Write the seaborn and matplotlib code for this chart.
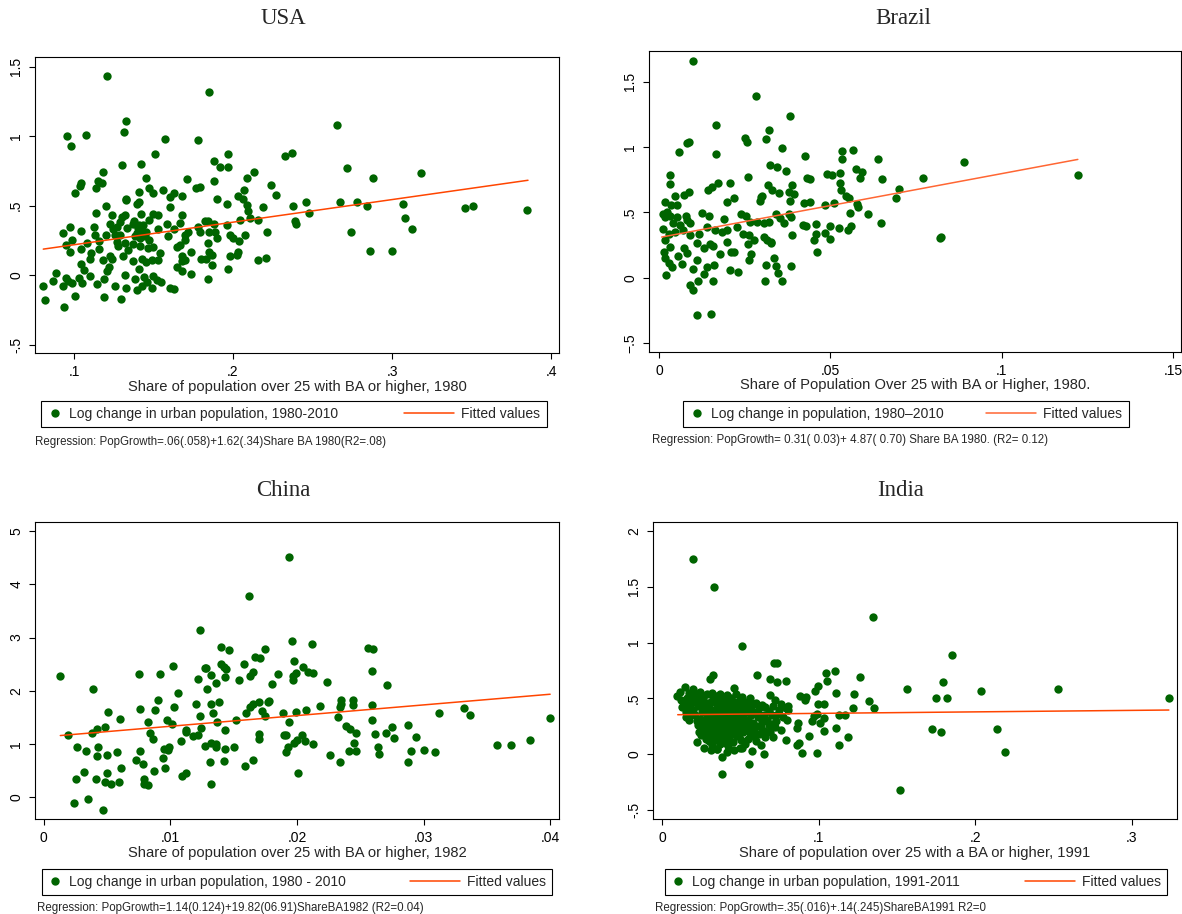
import numpy as np
import matplotlib
matplotlib.use("Agg")
import matplotlib.pyplot as plt
import seaborn as sns
from matplotlib.lines import Line2D
from matplotlib.legend_handler import HandlerLine2D

# share of population with BA (x) vs log change in population (y)
usa_points = [
    (0.121, 1.43), (0.185, 1.32), (0.133, 1.11), (0.1315, 1.03), (0.0956, 1.00), (0.1076, 1.01),
    (0.0983, 0.93), (0.157, 0.98), (0.178, 0.97), (0.151, 0.87), (0.233, 0.86), (0.237, 0.88),
    (0.197, 0.87), (0.188, 0.82), (0.192, 0.78), (0.197, 0.78), (0.130, 0.79), (0.142, 0.80),
    (0.118, 0.74), (0.213, 0.74), (0.209, 0.70), (0.145, 0.70), (0.171, 0.69), (0.188, 0.68),
    (0.115, 0.68), (0.1177, 0.66), (0.1046, 0.66), (0.104, 0.64), (0.1139, 0.63), (0.147, 0.63),
    (0.224, 0.65), (0.207, 0.61), (0.1008, 0.59), (0.141, 0.60), (0.1496, 0.59), (0.156, 0.61),
    (0.163, 0.59), (0.168, 0.57), (0.1605, 0.56), (0.177, 0.625), (0.179, 0.635), (0.227, 0.58),
    (0.203, 0.57), (0.206, 0.55), (0.1897, 0.55), (0.133, 0.55), (0.1328, 0.54), (0.141, 0.53),
    (0.1395, 0.51), (0.120, 0.495), (0.1605, 0.49), (0.196, 0.51), (0.209, 0.505), (0.219, 0.49),
    (0.238, 0.50), (0.1137, 0.45), (0.124, 0.43), (0.1303, 0.42), (0.1324, 0.43), (0.142, 0.44),
    (0.150, 0.44), (0.153, 0.43), (0.168, 0.43), (0.2097, 0.46), (0.2105, 0.41), (0.2046, 0.40),
    (0.2157, 0.40), (0.1824, 0.39), (0.184, 0.39), (0.239, 0.39), (0.2395, 0.365), (0.0973, 0.35),
    (0.1128, 0.35), (0.1227, 0.365), (0.129, 0.38), (0.138, 0.39), (0.141, 0.36), (0.1437, 0.36),
    (0.147, 0.40), (0.1586, 0.37), (0.1668, 0.375), (0.1777, 0.35), (0.188, 0.37), (0.196, 0.36),
    (0.153, 0.33), (0.1626, 0.33), (0.093, 0.30), (0.1044, 0.32), (0.113, 0.29), (0.1204, 0.29),
    (0.1258, 0.29), (0.129, 0.29), (0.1395, 0.30), (0.145, 0.31), (0.172, 0.31), (0.179, 0.31),
    (0.185, 0.31), (0.1889, 0.31), (0.198, 0.29), (0.2212, 0.31), (0.2078, 0.29), (0.170, 0.29),
    (0.190, 0.27), (0.0987, 0.25), (0.108, 0.235), (0.116, 0.245), (0.127, 0.24), (0.1324, 0.235),
    (0.137, 0.226), (0.147, 0.255), (0.1647, 0.20), (0.1664, 0.22), (0.184, 0.235), (0.204, 0.245),
    (0.200, 0.27), (0.0947, 0.216), (0.0975, 0.166), (0.1042, 0.185), (0.1158, 0.19), (0.128, 0.21),
    (0.134, 0.18), (0.1416, 0.21), (0.1496, 0.20), (0.154, 0.16), (0.1737, 0.17), (0.185, 0.17),
    (0.187, 0.145), (0.198, 0.14), (0.2029, 0.166), (0.2025, 0.145), (0.216, 0.106), (0.2206, 0.125),
    (0.1105, 0.16), (0.110, 0.12), (0.118, 0.11), (0.1227, 0.135), (0.124, 0.118), (0.131, 0.14),
    (0.1374, 0.10), (0.1429, 0.115), (0.145, 0.096), (0.149, 0.11), (0.153, 0.11), (0.168, 0.135),
    (0.1679, 0.10), (0.170, 0.11), (0.180, 0.113), (0.183, 0.113), (0.1044, 0.077), (0.1063, 0.038),
    (0.121, 0.03), (0.1222, 0.06), (0.141, 0.048), (0.1647, 0.06), (0.168, 0.03), (0.187, 0.075),
    (0.197, 0.048), (0.089, 0.014), (0.087, -0.04), (0.0807, -0.075), (0.082, -0.18), (0.0935, -0.23),
    (0.095, -0.017), (0.0933, -0.077), (0.0962, -0.043), (0.0985, -0.058), (0.1008, -0.147),
    (0.1032, -0.02), (0.105, -0.053), (0.110, -0.007), (0.1143, -0.065), (0.1191, -0.024),
    (0.1191, -0.16), (0.126, -0.075), (0.1294, -0.173), (0.1321, 0.002), (0.133, -0.094),
    (0.1384, -0.03), (0.1399, -0.11), (0.1426, -0.08), (0.1441, -0.01), (0.1458, -0.048),
    (0.149, -0.094), (0.150, -0.005), (0.152, -0.034), (0.1545, -0.05), (0.1605, -0.094),
    (0.1626, -0.10), (0.1735, 0.007), (0.184, -0.024), (0.1374, 0.37), (0.140, 0.34), (0.1426, 0.32),
    (0.1447, 0.28), (0.1416, 0.27), (0.1384, 0.28), (0.1468, 0.195), (0.1332, 0.34), (0.1273, 0.35),
    (0.1248, 0.33), (0.170, 0.255), (0.1594, 0.28), (0.2654, 1.08), (0.2717, 0.77), (0.2878, 0.70),
    (0.3182, 0.735), (0.2459, 0.53), (0.248, 0.45), (0.2673, 0.53), (0.278, 0.53), (0.2845, 0.50),
    (0.2744, 0.31), (0.2864, 0.175), (0.300, 0.175), (0.3071, 0.51), (0.3084, 0.41), (0.3128, 0.33),
    (0.3461, 0.48), (0.3507, 0.495), (0.3851, 0.47),
]

brazil_points = [
    (0.010, 1.66), (0.0284, 1.39), (0.0382, 1.24), (0.0165, 1.17), (0.032, 1.13), (0.025, 1.07),
    (0.0256, 1.04), (0.0312, 1.06), (0.0087, 1.04), (0.0083, 1.03), (0.0358, 0.995), (0.0058, 0.96),
    (0.0165, 0.946), (0.0425, 0.936), (0.0533, 0.97), (0.0567, 0.98), (0.0535, 0.91), (0.0639, 0.91),
    (0.0325, 0.86), (0.0345, 0.85), (0.0372, 0.82), (0.0576, 0.83), (0.0593, 0.81), (0.0489, 0.796),
    (0.0505, 0.79), (0.0527, 0.80), (0.0032, 0.786), (0.0261, 0.77), (0.0433, 0.765), (0.044, 0.758),
    (0.0587, 0.76), (0.065, 0.758), (0.0033, 0.714), (0.0171, 0.725), (0.0206, 0.727), (0.0155, 0.694),
    (0.0142, 0.668), (0.0317, 0.71), (0.0329, 0.673), (0.0388, 0.71), (0.0529, 0.727), (0.0087, 0.658),
    (0.0073, 0.633), (0.0048, 0.622), (0.0349, 0.65), (0.0379, 0.658), (0.0394, 0.64), (0.0531, 0.673),
    (0.0545, 0.622), (0.0553, 0.612), (0.0218, 0.612), (0.0298, 0.62), (0.0302, 0.627), (0.0019, 0.58),
    (0.0035, 0.559), (0.0054, 0.556), (0.0198, 0.58), (0.0294, 0.589), (0.0383, 0.587), (0.0424, 0.574),
    (0.044, 0.58), (0.0512, 0.574), (0.0577, 0.564), (0.058, 0.543), (0.0609, 0.49), (0.0648, 0.42),
    (0.0484, 0.554), (0.0556, 0.495), (0.0013, 0.487), (0.0024, 0.50), (0.0017, 0.464), (0.0032, 0.472),
    (0.0042, 0.418), (0.0054, 0.464), (0.0078, 0.472), (0.0081, 0.439), (0.0091, 0.418), (0.0062, 0.40),
    (0.0125, 0.495), (0.0145, 0.469), (0.0189, 0.452), (0.0240, 0.49), (0.0253, 0.472), (0.0267, 0.426),
    (0.0287, 0.426), (0.0306, 0.416), (0.0322, 0.426), (0.0341, 0.49), (0.0353, 0.454), (0.0365, 0.418),
    (0.0380, 0.49), (0.0385, 0.464), (0.0419, 0.40), (0.0430, 0.393), (0.0459, 0.413), (0.0499, 0.395),
    (0.0526, 0.38), (0.0559, 0.393), (0.0551, 0.365), (0.0012, 0.37), (0.0028, 0.337), (0.0047, 0.35),
    (0.0071, 0.362), (0.0091, 0.324), (0.0116, 0.337), (0.014, 0.388), (0.0164, 0.367), (0.0184, 0.35),
    (0.0199, 0.367), (0.0228, 0.388), (0.0246, 0.337), (0.0262, 0.324), (0.0277, 0.286), (0.0306, 0.311),
    (0.0316, 0.286), (0.0327, 0.273), (0.0388, 0.324), (0.0459, 0.337), (0.0453, 0.286), (0.0485, 0.342),
    (0.0498, 0.296), (0.0461, 0.194), (0.0019, 0.286), (0.0015, 0.199), (0.0032, 0.235), (0.0056, 0.163),
    (0.0074, 0.224), (0.0082, 0.191), (0.0111, 0.265), (0.013, 0.224), (0.015, 0.255), (0.0158, 0.245),
    (0.0179, 0.184), (0.0199, 0.27), (0.0209, 0.194), (0.0218, 0.20), (0.0259, 0.26), (0.0262, 0.138),
    (0.0268, 0.184), (0.0326, 0.265), (0.0336, 0.153), (0.0017, 0.148), (0.0028, 0.112), (0.0037, 0.082),
    (0.0068, 0.107), (0.0099, 0.069), (0.0112, 0.135), (0.0132, 0.031), (0.014, 0.082), (0.016, 0.099),
    (0.0208, 0.059), (0.0231, 0.041), (0.0312, 0.094), (0.0342, 0.092), (0.0348, 0.038), (0.0385, 0.092),
    (0.0021, 0.023), (0.0091, -0.054), (0.0098, -0.092), (0.0113, -0.026), (0.0159, -0.026),
    (0.0308, -0.028), (0.0359, -0.028), (0.0112, -0.29), (0.0153, -0.276), (0.0891, 0.885),
    (0.077, 0.76), (0.070, 0.68), (0.0691, 0.61), (0.0824, 0.31), (0.0821, 0.30), (0.1223, 0.785),
]

china_points = [
    (0.0013, 2.28), (0.0019, 1.17), (0.0026, 0.945), (0.0025, 0.35), (0.0024, -0.11), (0.0035, -0.04),
    (0.0033, 0.87), (0.0032, 0.475), (0.0039, 2.04), (0.0038, 1.21), (0.0042, 1.28), (0.0043, 0.94),
    (0.0042, 0.78), (0.0041, 0.35), (0.0047, -0.24), (0.0048, 1.32), (0.0051, 1.60), (0.005, 0.80),
    (0.005, 0.457), (0.0048, 0.29), (0.0053, 0.245), (0.0058, 0.845), (0.0060, 1.46), (0.0061, 0.557),
    (0.0059, 0.29), (0.0073, 0.70), (0.0075, 2.32), (0.0076, 1.65), (0.0076, 0.864), (0.0078, 0.632),
    (0.0079, 0.35), (0.0079, 0.25), (0.0082, 0.23), (0.0082, 1.41), (0.0084, 1.21), (0.0086, 1.09),
    (0.0087, 0.49), (0.0088, 1.63), (0.009, 1.82), (0.0092, 2.32), (0.0094, 0.73), (0.0095, 0.91),
    (0.0096, 0.557), (0.0097, 1.45), (0.0098, 0.89), (0.0099, 0.95), (0.0101, 1.37), (0.0102, 2.47),
    (0.0103, 1.70), (0.0106, 1.95), (0.0108, 1.06), (0.0109, 0.39), (0.0112, 0.46), (0.0112, 1.23),
    (0.0112, 1.26), (0.0118, 1.15), (0.012, 1.75), (0.0122, 1.16), (0.0122, 2.22), (0.0123, 3.15),
    (0.0123, 1.53), (0.0124, 1.30), (0.0127, 0.97), (0.0127, 2.43), (0.0128, 2.42), (0.0129, 2.03),
    (0.0131, 0.66), (0.0132, 2.29), (0.0132, 1.75), (0.0132, 0.25), (0.0132, 1.01), (0.0134, 1.59),
    (0.0136, 2.15), (0.0136, 0.95), (0.0136, 1.00), (0.0137, 1.41), (0.0138, 1.78), (0.014, 2.83),
    (0.014, 2.51), (0.0142, 2.45), (0.0143, 2.25), (0.0143, 1.26), (0.0143, 0.90), (0.0144, 2.41),
    (0.0146, 2.76), (0.0142, 0.68), (0.015, 0.95), (0.0152, 1.45), (0.0154, 2.20), (0.0158, 2.50),
    (0.0159, 0.59), (0.016, 1.59), (0.0162, 3.78), (0.0163, 2.27), (0.0163, 1.70), (0.0165, 2.35),
    (0.0165, 1.75), (0.0165, 0.69), (0.0167, 2.64), (0.0171, 2.61), (0.017, 1.10), (0.017, 1.78),
    (0.017, 1.19), (0.0172, 1.61), (0.0175, 2.79), (0.0175, 1.53), (0.0177, 1.78), (0.0178, 1.80),
    (0.018, 2.13), (0.0185, 2.32), (0.0189, 1.58), (0.0190, 1.16), (0.0191, 1.16), (0.0191, 0.84),
    (0.0193, 0.945), (0.0194, 1.42), (0.0194, 4.51), (0.0196, 2.94), (0.0198, 2.56), (0.0197, 2.28),
    (0.0199, 2.33), (0.0197, 2.21), (0.0199, 1.60), (0.0198, 1.01), (0.0201, 0.45), (0.02, 1.08),
    (0.0212, 2.87), (0.0205, 2.45), (0.0209, 2.36), (0.0213, 2.34), (0.0224, 2.17), (0.0256, 2.81),
    (0.026, 2.78), (0.0259, 2.38), (0.0271, 2.11), (0.0218, 1.71), (0.0235, 1.83), (0.0235, 1.75),
    (0.0234, 1.70), (0.0244, 1.83), (0.0244, 1.73), (0.0259, 1.73), (0.0207, 1.63), (0.0232, 1.51),
    (0.0259, 1.45), (0.0239, 1.34), (0.0242, 1.28), (0.0247, 1.20), (0.0262, 1.19), (0.027, 1.21),
    (0.0275, 1.32), (0.0277, 1.11), (0.0288, 1.36), (0.0294, 1.13), (0.0312, 1.58), (0.0332, 1.68),
    (0.0337, 1.55), (0.0204, 1.17), (0.0206, 1.06), (0.0213, 0.99), (0.0245, 1.01), (0.0264, 0.945),
    (0.0265, 0.82), (0.0241, 0.87), (0.0247, 0.87), (0.0226, 0.79), (0.0234, 0.67), (0.029, 0.876),
    (0.0288, 0.66), (0.03, 0.89), (0.0309, 0.845), (0.0358, 0.98), (0.0369, 0.976), (0.0384, 1.07),
    (0.040, 1.48),
]

india_points = [
    # scattered cities
    (0.0196, 1.745), (0.0334, 1.50), (0.1345, 1.23), (0.0509, 0.97), (0.0713, 0.82), (0.0734, 0.82),
    (0.0326, 0.71), (0.0304, 0.67), (0.0604, 0.71), (0.0689, 0.67), (0.0732, 0.65), (0.0794, 0.655),
    (0.1047, 0.73), (0.1053, 0.66), (0.1102, 0.745), (0.1266, 0.695), (0.0996, 0.61), (0.0974, 0.566),
    (0.1111, 0.55), (0.1228, 0.536), (0.1321, 0.48), (0.1353, 0.41), (0.0879, 0.52), (0.0919, 0.51),
    (0.0915, 0.49), (0.0996, 0.446), (0.1032, 0.45), (0.1217, 0.416), (0.0804, 0.43), (0.0804, 0.40),
    (0.1132, 0.35), (0.117, 0.35), (0.0968, 0.34), (0.0989, 0.356), (0.1032, 0.326), (0.0955, 0.296),
    (0.101, 0.28), (0.0868, 0.28), (0.0862, 0.236), (0.1109, 0.236), (0.1036, 0.21), (0.094, 0.16),
    (0.0794, 0.13), (0.1191, 0.153), (0.1128, 0.08), (0.0862, 0.08), (0.0872, 0.10), (0.0896, 0.01),
    (0.0989, 0.012), (0.0649, 0.006), (0.0572, 0.027), (0.0555, -0.084), (0.0385, -0.024),
    (0.0385, -0.177), (0.0223, 0.108), (0.0313, 0.042), (0.0351, 0.048), (0.0415, 0.021), (0.05, 0.057),
    (0.0238, 0.198), (0.152, -0.317), (0.1565, 0.58), (0.1854, 0.886), (0.1794, 0.644), (0.1752, 0.503),
    (0.182, 0.506), (0.1724, 0.228), (0.1782, 0.195), (0.2039, 0.566), (0.2143, 0.228), (0.2188, 0.024),
    (0.2531, 0.58), (0.3242, 0.50),
    # dense cluster of small cities
    (0.0096, 0.52), (0.0117, 0.56), (0.0145, 0.60), (0.0160, 0.50), (0.0175, 0.55), (0.0196, 0.58),
    (0.0210, 0.47), (0.0225, 0.53), (0.0245, 0.56), (0.0260, 0.50), (0.0290, 0.54), (0.0320, 0.55),
    (0.0345, 0.52), (0.0372, 0.54), (0.0395, 0.51), (0.0415, 0.53), (0.0440, 0.50), (0.0457, 0.59),
    (0.0470, 0.54), (0.0500, 0.49), (0.0530, 0.47), (0.0560, 0.50), (0.0600, 0.46), (0.0640, 0.44),
    (0.0690, 0.53), (0.0720, 0.49), (0.0760, 0.45), (0.0790, 0.41), (0.0130, 0.42), (0.0150, 0.38),
    (0.0180, 0.44), (0.0200, 0.40), (0.0230, 0.43), (0.0255, 0.38), (0.0270, 0.45), (0.0300, 0.41),
    (0.0315, 0.47), (0.0330, 0.37), (0.0350, 0.44), (0.0365, 0.40), (0.0380, 0.47), (0.0400, 0.42),
    (0.0420, 0.38), (0.0435, 0.45), (0.0450, 0.40), (0.0475, 0.43), (0.0490, 0.37), (0.0510, 0.42),
    (0.0540, 0.39), (0.0570, 0.43), (0.0590, 0.38), (0.0620, 0.41), (0.0650, 0.35), (0.0680, 0.39),
    (0.0710, 0.43), (0.0740, 0.36), (0.0775, 0.33), (0.0150, 0.33), (0.0175, 0.31), (0.0210, 0.35),
    (0.0240, 0.32), (0.0265, 0.29), (0.0285, 0.35), (0.0305, 0.31), (0.0325, 0.28), (0.0340, 0.34),
    (0.0355, 0.30), (0.0370, 0.36), (0.0385, 0.32), (0.0400, 0.28), (0.0410, 0.35), (0.0425, 0.31),
    (0.0445, 0.34), (0.0460, 0.29), (0.0480, 0.33), (0.0500, 0.30), (0.0520, 0.34), (0.0550, 0.31),
    (0.0580, 0.28), (0.0610, 0.33), (0.0640, 0.29), (0.0670, 0.31), (0.0700, 0.27), (0.0730, 0.30),
    (0.0230, 0.26), (0.0255, 0.23), (0.0280, 0.27), (0.0300, 0.22), (0.0320, 0.25), (0.0345, 0.21),
    (0.0360, 0.26), (0.0375, 0.23), (0.0395, 0.20), (0.0415, 0.25), (0.0430, 0.22), (0.0450, 0.26),
    (0.0470, 0.21), (0.0495, 0.24), (0.0515, 0.20), (0.0540, 0.24), (0.0560, 0.19), (0.0590, 0.22),
    (0.0620, 0.18), (0.0650, 0.21), (0.0690, 0.20), (0.0250, 0.17), (0.0280, 0.14), (0.0310, 0.18),
    (0.0335, 0.13), (0.0360, 0.16), (0.0385, 0.12), (0.0405, 0.17), (0.0430, 0.14), (0.0455, 0.11),
    (0.0480, 0.16), (0.0505, 0.13), (0.0530, 0.09), (0.0550, 0.14), (0.0600, 0.12), (0.0630, 0.08),
    (0.0320, 0.08), (0.0350, 0.05), (0.0420, 0.07), (0.0460, 0.04), (0.0510, 0.06), (0.0270, 0.06),
    (0.0365, 0.47), (0.0390, 0.38), (0.0405, 0.45), (0.0440, 0.37), (0.0395, 0.26), (0.0380, 0.30),
    (0.0330, 0.40), (0.0310, 0.37), (0.0355, 0.38), (0.0425, 0.41), (0.0460, 0.47), (0.0520, 0.27),
    (0.0570, 0.35), (0.0600, 0.25), (0.0680, 0.26), (0.0750, 0.40), (0.0800, 0.31), (0.0760, 0.22),
    (0.0710, 0.15), (0.0120, 0.49), (0.0140, 0.46), (0.0165, 0.41), (0.0190, 0.36), (0.0220, 0.30),
    (0.0235, 0.48), (0.0250, 0.44), (0.0275, 0.40), (0.0295, 0.46), (0.0280, 0.32), (0.0270, 0.21),
    (0.0290, 0.19), (0.0315, 0.15), (0.0340, 0.17), (0.0340, 0.25), (0.0365, 0.20), (0.0370, 0.33),
    (0.0385, 0.42), (0.0390, 0.15), (0.0410, 0.10), (0.0410, 0.30), (0.0440, 0.28), (0.0445, 0.18),
    (0.0470, 0.37), (0.0470, 0.25), (0.0485, 0.45), (0.0500, 0.19), (0.0525, 0.37), (0.0535, 0.30),
    (0.0545, 0.44), (0.0560, 0.26), (0.0580, 0.16), (0.0580, 0.45), (0.0610, 0.37), (0.0630, 0.24),
    (0.0660, 0.42), (0.0660, 0.15), (0.0700, 0.35), (0.0720, 0.24), (0.0350, 0.49), (0.0420, 0.48),
    (0.0185, 0.50), (0.0205, 0.53), (0.0325, 0.50), (0.0510, 0.51), (0.0300, 0.12), (0.0370, 0.09),
]

# fitted-value line ends
usa_fit_x, usa_fit_y = [0.0807, 0.3855], [0.1875, 0.683]
brazil_fit_x, brazil_fit_y = [0.0008, 0.1222], [0.311, 0.906]
china_fit_x, china_fit_y = [0.0013, 0.040], [1.158, 1.934]
india_fit_x, india_fit_y = [0.010, 0.3238], [0.354, 0.396]

titles = ["USA", "Brazil", "China", "India"]
xlabels = [
    "Share of population over 25 with BA or higher, 1980",
    "Share of Population Over 25 with BA or Higher, 1980.",
    "Share of population over 25 with BA or higher, 1982",
    "Share of population over 25 with a BA or higher, 1991",
]
legend_labels = [
    "Log change in urban population, 1980-2010",
    "Log change in population, 1980\u20132010",
    "Log change in urban population, 1980 - 2010",
    "Log change in urban population, 1991-2011",
]
notes = [
    "Regression: PopGrowth=.06(.058)+1.62(.34)Share BA 1980(R2=.08)",
    "Regression: PopGrowth= 0.31( 0.03)+ 4.87( 0.70) Share BA 1980. (R2= 0.12)",
    "Regression: PopGrowth=1.14(0.124)+19.82(06.91)ShareBA1982 (R2=0.04)",
    "Regression: PopGrowth=.35(.016)+.14(.245)ShareBA1991 R2=0",
]
usa_xticks, usa_xticklabels = [0.1, 0.2, 0.3, 0.4], [".1", ".2", ".3", ".4"]
usa_yticks, usa_yticklabels = [-0.5, 0, 0.5, 1, 1.5], ["-.5", "0", ".5", "1", "1.5"]
brazil_xticks, brazil_xticklabels = [0, 0.05, 0.1, 0.15], ["0", ".05", ".1", ".15"]
brazil_yticks, brazil_yticklabels = [-0.5, 0, 0.5, 1, 1.5], ["\u2212.5", "0", ".5", "1", "1.5"]
china_xticks, china_xticklabels = [0, 0.01, 0.02, 0.03, 0.04], ["0", ".01", ".02", ".03", ".04"]
china_yticks, china_yticklabels = [0, 1, 2, 3, 4, 5], ["0", "1", "2", "3", "4", "5"]
india_xticks, india_xticklabels = [0, 0.1, 0.2, 0.3], ["0", ".1", ".2", ".3"]
india_yticks, india_yticklabels = [-0.5, 0, 0.5, 1, 1.5, 2], ["-.5", "0", ".5", "1", "1.5", "2"]

GREEN = "#006400"
W, H = 1182, 914

sns.set_style("ticks")
plt.rcParams["font.family"] = ["Liberation Sans", "DejaVu Sans"]
plt.rcParams["axes.edgecolor"] = "black"
plt.rcParams["xtick.color"] = "black"
plt.rcParams["ytick.color"] = "black"


class LongLineHandler(HandlerLine2D):
    # stretch the legend line to the left, Stata style
    def __init__(self, extra, **kw):
        super().__init__(**kw)
        self.extra = extra

    def create_artists(self, legend, orig_handle, xdescent, ydescent, width, height, fontsize, trans):
        ext = self.extra * fontsize
        return super().create_artists(legend, orig_handle, xdescent + ext, ydescent,
                                      width + ext, height, fontsize, trans)


def px_axes(fig, left, top, right, bottom):
    return fig.add_axes([left / W, 1 - bottom / H, (right - left) / W, (bottom - top) / H])


def draw_panel(ax, points, fit_x, fit_y, line_color, xlim, ylim, xt, xtl, yt, ytl, xlabel):
    pts = np.array(points)
    sns.scatterplot(x=pts[:, 0], y=pts[:, 1], ax=ax, color=GREEN, s=36, linewidth=0, zorder=2)
    sns.lineplot(x=fit_x, y=fit_y, ax=ax, color=line_color, linewidth=1.1, zorder=3)
    ax.set_xlim(*xlim)
    ax.set_ylim(*ylim)
    ax.set_xticks(xt)
    ax.set_xticklabels(xtl)
    ax.set_yticks(yt)
    ax.set_yticklabels(ytl, rotation=90, va="center")
    ax.tick_params(axis="both", direction="out", length=4.5, width=0.8, labelsize=10, pad=4)
    ax.set_xlabel(xlabel, fontsize=10.6, labelpad=0.5)
    ax.set_ylabel("")
    for sp in ax.spines.values():
        sp.set_linewidth(0.8)
        sp.set_visible(True)


def add_legend(fig, label, line_color, cx, cy, colspace):
    dot = Line2D([], [], marker="o", linestyle="none", color=GREEN, markersize=5)
    line = Line2D([], [], color=line_color, linewidth=1.1)
    leg = fig.legend([dot, line], [label, "Fitted values"], loc="center",
                     bbox_to_anchor=(cx / W, 1 - cy / H), ncol=2, frameon=True, fancybox=False,
                     edgecolor="black", framealpha=1, fontsize=10, handlelength=1.0,
                     handletextpad=0.5, columnspacing=colspace, borderpad=0.45,
                     handler_map={line: LongLineHandler(2.6)})
    leg.get_frame().set_linewidth(0.8)
    return leg


fig = plt.figure(figsize=(W / 100, H / 100), dpi=100)

ax_usa = px_axes(fig, 35, 57, 559, 353)
ax_bra = px_axes(fig, 649, 51, 1181, 352)
ax_chn = px_axes(fig, 35, 522, 559, 819)
ax_ind = px_axes(fig, 653, 522, 1177, 819)

draw_panel(ax_usa, usa_points, usa_fit_x, usa_fit_y, "#ff4500", (0.0755, 0.405), (-0.56, 1.57),
           usa_xticks, usa_xticklabels, usa_yticks, usa_yticklabels, xlabels[0])
draw_panel(ax_bra, brazil_points, brazil_fit_x, brazil_fit_y, "#ff6633", (-0.0029, 0.1523), (-0.57, 1.737),
           brazil_xticks, brazil_xticklabels, brazil_yticks, brazil_yticklabels, xlabels[1])
draw_panel(ax_chn, china_points, china_fit_x, china_fit_y, "#ff4500", (-0.0007, 0.0407), (-0.41, 5.17),
           china_xticks, china_xticklabels, china_yticks, china_yticklabels, xlabels[2])
draw_panel(ax_ind, india_points, india_fit_x, india_fit_y, "#ff4500", (-0.0058, 0.329), (-0.58, 2.08),
           india_xticks, india_xticklabels, india_yticks, india_yticklabels, xlabels[3])

title_pos = [(283, 18), (903, 18), (283, 490), (901, 490)]
for t, (x, y) in zip(titles, title_pos):
    fig.text(x / W, 1 - y / H, t, ha="center", va="center", fontsize=16.5, family="Liberation Serif")

add_legend(fig, legend_labels[0], "#ff4500", 294, 414, 7.4)
add_legend(fig, legend_labels[1], "#ff6633", 906, 414, 5.7)
add_legend(fig, legend_labels[2], "#ff4500", 297, 882, 7.2)
add_legend(fig, legend_labels[3], "#ff4500", 916, 882, 7.3)

note_pos = [(35, 442), (652, 440), (37, 908), (655, 908)]
for n, (x, y) in zip(notes, note_pos):
    fig.text(x / W, 1 - y / H, n, ha="left", va="center", fontsize=8.3)

fig.savefig("out.png", dpi=100)
